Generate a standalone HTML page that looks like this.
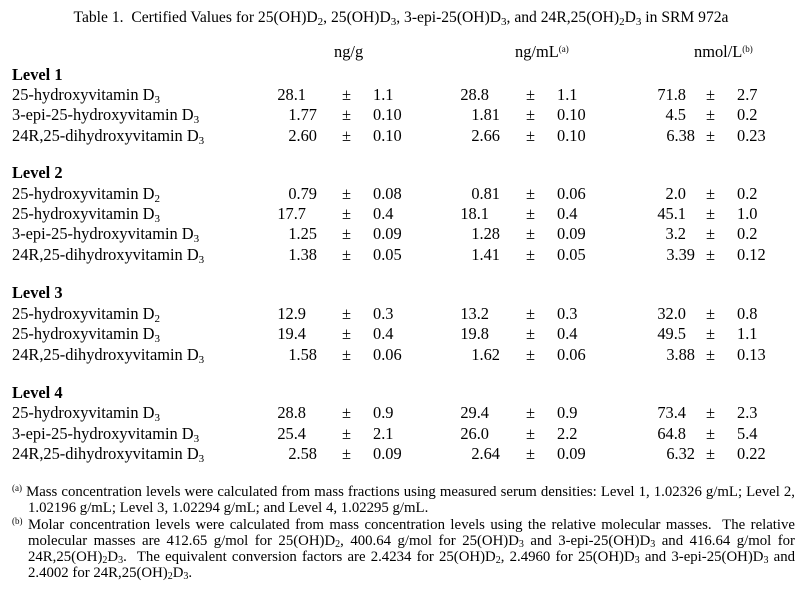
<!DOCTYPE html>
<html><head><meta charset="utf-8"><style>
body{margin:0;width:802px;height:591px;background:#fff;position:relative;overflow:hidden;font-family:"Liberation Serif",serif;color:#000}
div{position:absolute;white-space:nowrap;font-size:16.4px;line-height:18px}
.s{font-size:11px;vertical-align:-3px;line-height:0}
.p{font-size:9px;vertical-align:5px;line-height:0}
.b{font-weight:bold}
.r{text-align:right;width:80px}
.f{font-size:14.8px;line-height:16px}
.f .s{font-size:10px;vertical-align:-2px}
.j{text-align:justify;text-align-last:justify;white-space:normal;height:16px}
.t{font-size:15.6px}
</style></head><body>
<div class="t" style="left:0;width:802px;text-align:center;top:9px">Table 1.&nbsp; Certified Values for 25(OH)D<span class="s">2</span>, 25(OH)D<span class="s">3</span>, 3-epi-25(OH)D<span class="s">3</span>, and 24R,25(OH)<span class="s">2</span>D<span class="s">3</span> in SRM 972a</div>
<div style="left:334px;top:43px">ng/g</div>
<div style="left:515px;top:43px">ng/mL<span class="p">(a)</span></div>
<div style="left:694px;top:43px">nmol/L<span class="p">(b)</span></div>

<div class="b" style="left:12px;top:66px">Level 1</div>
<div style="left:12px;top:86px">25-hydroxyvitamin D<span class="s">3</span></div>
<div style="left:12px;top:106px">3-epi-25-hydroxyvitamin D<span class="s">3</span></div>
<div style="left:12px;top:127px">24R,25-dihydroxyvitamin D<span class="s">3</span></div>
<div class="b" style="left:12px;top:164px">Level 2</div>
<div style="left:12px;top:185px">25-hydroxyvitamin D<span class="s">2</span></div>
<div style="left:12px;top:205px">25-hydroxyvitamin D<span class="s">3</span></div>
<div style="left:12px;top:225px">3-epi-25-hydroxyvitamin D<span class="s">3</span></div>
<div style="left:12px;top:246px">24R,25-dihydroxyvitamin D<span class="s">3</span></div>
<div class="b" style="left:12px;top:284px">Level 3</div>
<div style="left:12px;top:305px">25-hydroxyvitamin D<span class="s">2</span></div>
<div style="left:12px;top:325px">25-hydroxyvitamin D<span class="s">3</span></div>
<div style="left:12px;top:346px">24R,25-dihydroxyvitamin D<span class="s">3</span></div>
<div class="b" style="left:12px;top:384px">Level 4</div>
<div style="left:12px;top:404px">25-hydroxyvitamin D<span class="s">3</span></div>
<div style="left:12px;top:425px">3-epi-25-hydroxyvitamin D<span class="s">3</span></div>
<div style="left:12px;top:445px">24R,25-dihydroxyvitamin D<span class="s">3</span></div>

<div class="r" style="left:226px;top:86px">28.1</div><div style="left:342px;top:86px">±</div><div style="left:373px;top:86px">1.1</div>
<div class="r" style="left:409px;top:86px">28.8</div><div style="left:526px;top:86px">±</div><div style="left:557px;top:86px">1.1</div>
<div class="r" style="left:606px;top:86px">71.8</div><div style="left:706px;top:86px">±</div><div style="left:737px;top:86px">2.7</div>

<div class="r" style="left:237px;top:106px">1.77</div><div style="left:342px;top:106px">±</div><div style="left:373px;top:106px">0.10</div>
<div class="r" style="left:420px;top:106px">1.81</div><div style="left:526px;top:106px">±</div><div style="left:557px;top:106px">0.10</div>
<div class="r" style="left:606px;top:106px">4.5</div><div style="left:706px;top:106px">±</div><div style="left:737px;top:106px">0.2</div>

<div class="r" style="left:237px;top:127px">2.60</div><div style="left:342px;top:127px">±</div><div style="left:373px;top:127px">0.10</div>
<div class="r" style="left:420px;top:127px">2.66</div><div style="left:526px;top:127px">±</div><div style="left:557px;top:127px">0.10</div>
<div class="r" style="left:615px;top:127px">6.38</div><div style="left:706px;top:127px">±</div><div style="left:737px;top:127px">0.23</div>

<div class="r" style="left:237px;top:185px">0.79</div><div style="left:342px;top:185px">±</div><div style="left:373px;top:185px">0.08</div>
<div class="r" style="left:420px;top:185px">0.81</div><div style="left:526px;top:185px">±</div><div style="left:557px;top:185px">0.06</div>
<div class="r" style="left:606px;top:185px">2.0</div><div style="left:706px;top:185px">±</div><div style="left:737px;top:185px">0.2</div>

<div class="r" style="left:226px;top:205px">17.7</div><div style="left:342px;top:205px">±</div><div style="left:373px;top:205px">0.4</div>
<div class="r" style="left:409px;top:205px">18.1</div><div style="left:526px;top:205px">±</div><div style="left:557px;top:205px">0.4</div>
<div class="r" style="left:606px;top:205px">45.1</div><div style="left:706px;top:205px">±</div><div style="left:737px;top:205px">1.0</div>

<div class="r" style="left:237px;top:225px">1.25</div><div style="left:342px;top:225px">±</div><div style="left:373px;top:225px">0.09</div>
<div class="r" style="left:420px;top:225px">1.28</div><div style="left:526px;top:225px">±</div><div style="left:557px;top:225px">0.09</div>
<div class="r" style="left:606px;top:225px">3.2</div><div style="left:706px;top:225px">±</div><div style="left:737px;top:225px">0.2</div>

<div class="r" style="left:237px;top:246px">1.38</div><div style="left:342px;top:246px">±</div><div style="left:373px;top:246px">0.05</div>
<div class="r" style="left:420px;top:246px">1.41</div><div style="left:526px;top:246px">±</div><div style="left:557px;top:246px">0.05</div>
<div class="r" style="left:615px;top:246px">3.39</div><div style="left:706px;top:246px">±</div><div style="left:737px;top:246px">0.12</div>

<div class="r" style="left:226px;top:305px">12.9</div><div style="left:342px;top:305px">±</div><div style="left:373px;top:305px">0.3</div>
<div class="r" style="left:409px;top:305px">13.2</div><div style="left:526px;top:305px">±</div><div style="left:557px;top:305px">0.3</div>
<div class="r" style="left:606px;top:305px">32.0</div><div style="left:706px;top:305px">±</div><div style="left:737px;top:305px">0.8</div>

<div class="r" style="left:226px;top:325px">19.4</div><div style="left:342px;top:325px">±</div><div style="left:373px;top:325px">0.4</div>
<div class="r" style="left:409px;top:325px">19.8</div><div style="left:526px;top:325px">±</div><div style="left:557px;top:325px">0.4</div>
<div class="r" style="left:606px;top:325px">49.5</div><div style="left:706px;top:325px">±</div><div style="left:737px;top:325px">1.1</div>

<div class="r" style="left:237px;top:346px">1.58</div><div style="left:342px;top:346px">±</div><div style="left:373px;top:346px">0.06</div>
<div class="r" style="left:420px;top:346px">1.62</div><div style="left:526px;top:346px">±</div><div style="left:557px;top:346px">0.06</div>
<div class="r" style="left:615px;top:346px">3.88</div><div style="left:706px;top:346px">±</div><div style="left:737px;top:346px">0.13</div>

<div class="r" style="left:226px;top:404px">28.8</div><div style="left:342px;top:404px">±</div><div style="left:373px;top:404px">0.9</div>
<div class="r" style="left:409px;top:404px">29.4</div><div style="left:526px;top:404px">±</div><div style="left:557px;top:404px">0.9</div>
<div class="r" style="left:606px;top:404px">73.4</div><div style="left:706px;top:404px">±</div><div style="left:737px;top:404px">2.3</div>

<div class="r" style="left:226px;top:425px">25.4</div><div style="left:342px;top:425px">±</div><div style="left:373px;top:425px">2.1</div>
<div class="r" style="left:409px;top:425px">26.0</div><div style="left:526px;top:425px">±</div><div style="left:557px;top:425px">2.2</div>
<div class="r" style="left:606px;top:425px">64.8</div><div style="left:706px;top:425px">±</div><div style="left:737px;top:425px">5.4</div>

<div class="r" style="left:237px;top:445px">2.58</div><div style="left:342px;top:445px">±</div><div style="left:373px;top:445px">0.09</div>
<div class="r" style="left:420px;top:445px">2.64</div><div style="left:526px;top:445px">±</div><div style="left:557px;top:445px">0.09</div>
<div class="r" style="left:615px;top:445px">6.32</div><div style="left:706px;top:445px">±</div><div style="left:737px;top:445px">0.22</div>

<div class="f j" style="left:12px;width:783px;top:484px"><span class="p">(a)</span> Mass concentration levels were calculated from mass fractions using measured serum densities: Level 1, 1.02326 g/mL; Level 2,</div>
<div class="f" style="left:28px;top:500px">1.02196 g/mL; Level 3, 1.02294 g/mL; and Level 4, 1.02295 g/mL.</div>
<div class="f j" style="left:12px;width:783px;top:517px"><span class="p">(b)</span> Molar concentration levels were calculated from mass concentration levels using the relative molecular masses.&nbsp; The relative</div>
<div class="f j" style="left:28px;width:767px;top:533px">molecular masses are 412.65 g/mol for 25(OH)D<span class="s">2</span>, 400.64 g/mol for 25(OH)D<span class="s">3</span> and 3-epi-25(OH)D<span class="s">3</span> and 416.64 g/mol for</div>
<div class="f j" style="left:28px;width:767px;top:549px">24R,25(OH)<span class="s">2</span>D<span class="s">3</span>.&nbsp; The equivalent conversion factors are 2.4234 for 25(OH)D<span class="s">2</span>, 2.4960 for 25(OH)D<span class="s">3</span> and 3-epi-25(OH)D<span class="s">3</span> and</div>
<div class="f" style="left:28px;top:565px">2.4002 for 24R,25(OH)<span class="s">2</span>D<span class="s">3</span>.</div>
</body></html>
